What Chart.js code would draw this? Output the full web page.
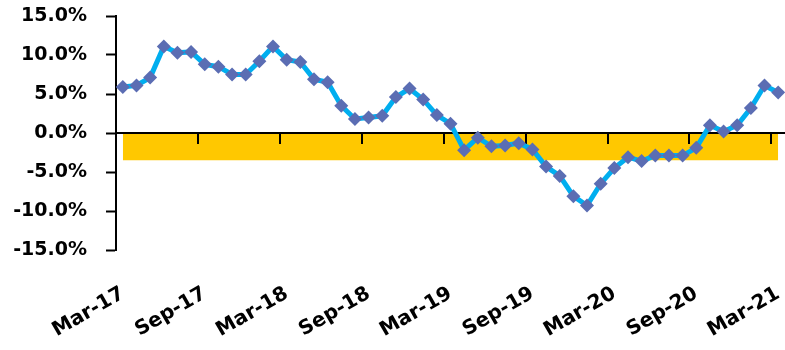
<!DOCTYPE html>
<html>
<head>
<meta charset="utf-8">
<script src="https://cdn.jsdelivr.net/npm/chart.js@4/dist/chart.umd.min.js"></script>
<style>
  html, body { margin: 0; padding: 0; background: #ffffff; }
  #wrap { width: 785px; height: 350px; }
</style>
</head>
<body>
<div id="wrap"><canvas id="chart" width="785" height="350"></canvas></div>
<script>
// Monthly categories, Mar-17 .. Mar-21
const months = [
  'Mar-17','Apr-17','May-17','Jun-17','Jul-17','Aug-17','Sep-17','Oct-17','Nov-17','Dec-17','Jan-18','Feb-18',
  'Mar-18','Apr-18','May-18','Jun-18','Jul-18','Aug-18','Sep-18','Oct-18','Nov-18','Dec-18','Jan-19','Feb-19',
  'Mar-19','Apr-19','May-19','Jun-19','Jul-19','Aug-19','Sep-19','Oct-19','Nov-19','Dec-19','Jan-20','Feb-20',
  'Mar-20','Apr-20','May-20','Jun-20','Jul-20','Aug-20','Sep-20','Oct-20','Nov-20','Dec-20','Jan-21','Feb-21',
  'Mar-21'
];

// Year-on-year change, %
const growth = [
  5.9, 6.1, 7.1, 11.1, 10.3, 10.4, 8.8, 8.5, 7.5, 7.5, 9.2, 11.1,
  9.4, 9.1, 6.9, 6.5, 3.5, 1.8, 2.0, 2.2, 4.6, 5.7, 4.3, 2.3,
  1.2, -2.2, -0.6, -1.7, -1.6, -1.3, -2.1, -4.3, -5.5, -8.1, -9.3, -6.5,
  -4.5, -3.1, -3.6, -2.9, -2.9, -2.9, -1.9, 1.0, 0.2, 1.0, 3.2, 6.1,
  5.2
];

// Shaded band from 0% down to this level
const bandLevel = -3.5;

// Y axis tick values
const yTicks = [-15, -10, -5, 0, 5, 10, 15];

const FAMILY = "'DejaVu Sans', sans-serif";

new Chart(document.getElementById('chart'), {
  type: 'line',
  data: {
    labels: months,
    datasets: [
      {
        label: 'Growth',
        data: growth,
        borderColor: '#00AEEF',
        borderWidth: 5,
        tension: 0,
        pointStyle: 'rectRot',
        pointRadius: 7,
        pointHoverRadius: 7,
        pointBackgroundColor: '#5B6DB3',
        pointBorderWidth: 0,
        fill: false
      },
      {
        label: 'Band',
        data: [
          { x: months[0], y: bandLevel },
          { x: months[months.length - 1], y: bandLevel }
        ],
        borderWidth: 0,
        pointRadius: 0,
        backgroundColor: '#FFC800',
        fill: 'origin'
      }
    ]
  },
  options: {
    responsive: false,
    animation: false,
    events: [],
    layout: { autoPadding: false, padding: { top: 16, right: 0, bottom: 0, left: 0 } },
    plugins: {
      legend: { display: false },
      tooltip: { enabled: false },
      filler: { drawTime: 'beforeDraw' }
    },
    scales: {
      x: {
        type: 'category',
        position: 'bottom',
        offset: true,
        grid: { display: false, drawTicks: false, tickLength: 0 },
        border: { display: false },
        ticks: {
          autoSkip: false,
          minRotation: 30,
          maxRotation: 30,
          padding: 32,
          color: '#000000',
          font: { family: FAMILY, size: 20, weight: 'bold' },
          callback: (v, i) => (i % 6 === 0 ? months[i] : null)
        },
        afterFit: (s) => { s.height = 100; s.paddingLeft = 0; s.paddingRight = 0; }
      },
      xZero: {
        type: 'category',
        position: { y: 0 },
        offset: true,
        grid: {
          display: true,
          offset: true,
          drawOnChartArea: false,
          drawTicks: true,
          tickLength: 10,
          lineWidth: 2,
          tickWidth: 2,
          tickColor: (ctx) => (ctx.index !== undefined && ctx.index % 6 === 0 ? '#000000' : 'rgba(0,0,0,0)')
        },
        border: { display: true, color: '#000000', width: 2 },
        ticks: { display: false },
        afterFit: (s) => { s.height = 0; s.paddingLeft = 0; s.paddingRight = 0; }
      },
      y: {
        min: -15,
        max: 15,
        afterBuildTicks: (s) => { s.ticks = yTicks.map(v => ({ value: v })); },
        grid: {
          drawOnChartArea: false,
          drawTicks: true,
          tickLength: 10,
          tickWidth: 2,
          tickColor: '#000000'
        },
        border: { display: true, color: '#000000', width: 2 },
        ticks: {
          padding: 19,
          color: '#000000',
          font: { family: FAMILY, size: 19, weight: 'bold' },
          callback: (v) => v.toFixed(1) + '%'
        },
        afterFit: (s) => { s.width = 116; s.paddingTop = 0; s.paddingBottom = 0; }
      }
    }
  }
});
</script>
</body>
</html>
